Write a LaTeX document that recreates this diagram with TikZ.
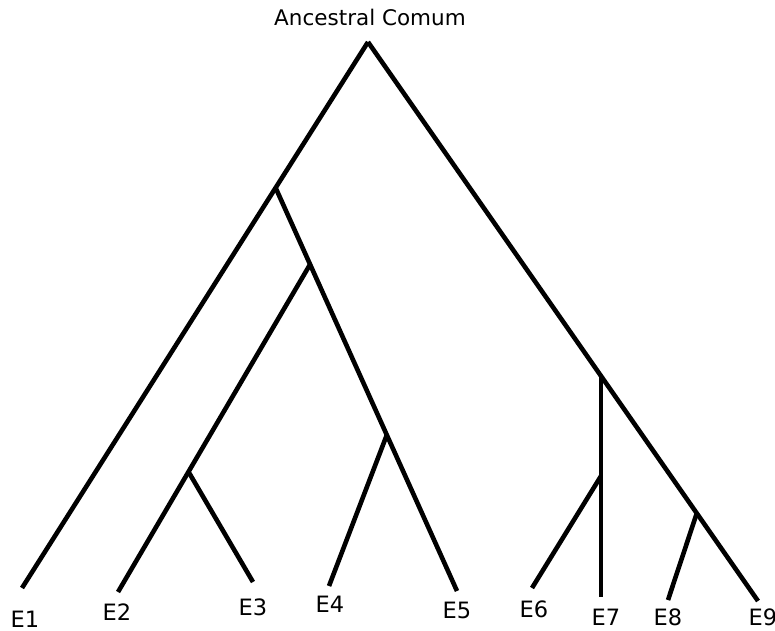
\documentclass[tikz,border=0pt]{standalone}
\usepackage{fontspec}
\setmainfont{DejaVu Sans}
\usetikzlibrary{calc}
\begin{document}
\begin{tikzpicture}[x=1pt,y=-1pt,
  branch/.style={line width=4.6pt,line cap=butt,line join=miter},
  leaf/.style={font=\fontsize{22.5}{24}\selectfont,inner sep=0pt},
  title/.style={font=\fontsize{21.5}{24}\selectfont,inner sep=0pt}]
  \useasboundingbox (0,0) rectangle (775,630);
  % root and leaf tips
  \coordinate (root) at (368,42);
  \coordinate (t1) at (22,588);
  \coordinate (t2) at (118,592);
  \coordinate (t3) at (253,582);
  \coordinate (t4) at (329,586);
  \coordinate (t5) at (457,591);
  \coordinate (t6) at (532,588);
  \coordinate (t7) at (601,597);
  \coordinate (t8) at (668,600);
  \coordinate (t9) at (758,601);
  % inner branching points
  \coordinate (a) at ($(root)!0.267!(t1)$);
  \coordinate (b) at ($(a)!0.19!(t5)$);
  \coordinate (c) at ($(a)!0.613!(t5)$);
  \coordinate (d) at ($(b)!0.633!(t2)$);
  \coordinate (f) at ($(root)!0.597!(t9)$);
  \coordinate (g) at (601,476);
  \coordinate (h) at ($(root)!0.843!(t9)$);
  % branches
  \draw[branch] (root) -- (t1);
  \draw[branch] (root) -- (t9);
  \draw[branch] (a) -- (t5);
  \draw[branch] (b) -- (t2);
  \draw[branch] (d) -- (t3);
  \draw[branch] (c) -- (t4);
  \draw[branch] (t7 |- f) -- (t7);
  \draw[branch] (g) -- (t6);
  \draw[branch] (h) -- (t8);
  % labels
  \node[title] (anc) at (370,17) {Ancestral Comum};
  \node[leaf] (e1) at (25,619) {E1};
  \node[leaf] (e2) at (117,612) {E2};
  \node[leaf] (e3) at (253,607) {E3};
  \node[leaf] (e4) at (330,604) {E4};
  \node[leaf] (e5) at (457,610) {E5};
  \node[leaf] (e6) at (534,609) {E6};
  \node[leaf] (e7) at (606,617) {E7};
  \node[leaf] (e8) at (668,617) {E8};
  \node[leaf] (e9) at (763,617) {E9};
\end{tikzpicture}
\end{document}
